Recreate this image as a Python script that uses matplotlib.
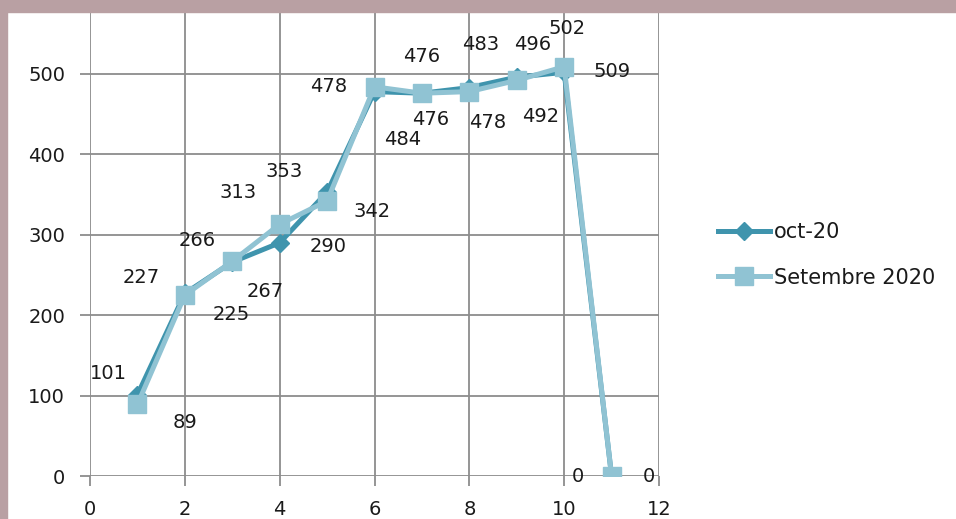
import matplotlib.pyplot as plt
from matplotlib.patches import Rectangle

# chart data
x_vals = [1, 2, 3, 4, 5, 6, 7, 8, 9, 10, 11]
oct_20 = [101, 227, 266, 290, 353, 478, 476, 483, 496, 502, 0]
set_2020 = [89, 225, 267, 313, 342, 484, 476, 478, 492, 509, 0]
x_ticks = [0, 2, 4, 6, 8, 10, 12]
y_ticks = [0, 100, 200, 300, 400, 500]

# label offsets in pixels (dx, dy up)
oct_offsets = [(-29, 21), (-44, 16), (-35, 22), (48, -4), (-43, 21), (-46, 5),
               (0, 37), (11, 43), (16, 33), (3, 44), (-34, 0)]
set_offsets = [(48, -18), (46, -19), (33, -30), (-42, 32), (45, -11), (28, -53),
               (9, -26), (18, -31), (24, -36), (48, -5), (37, 0)]

col_oct = '#3f94ad'
col_set = '#90c3d3'
grid_col = '#8c8c8c'
txt_col = '#1a1a1a'

fig = plt.figure(figsize=(9.56, 5.19), dpi=100)
fig.patch.set_facecolor('white')
ax = fig.add_axes([90 / 956, 43 / 519, 569 / 956, 464 / 519])

ax.plot(x_vals, oct_20, color=col_oct, lw=3.6, marker='D', ms=9, label='oct-20', zorder=3)
ax.plot(x_vals, set_2020, color=col_set, lw=3.6, marker='s', ms=13, label='Setembre 2020', zorder=4)

pt = 0.72
for xv, yv, (dx, dy) in zip(x_vals, oct_20, oct_offsets):
    ax.annotate(str(yv), (xv, yv), xytext=(dx * pt, dy * pt), textcoords='offset points',
                ha='center', va='center', fontsize=14, color=txt_col, zorder=5)
for xv, yv, (dx, dy) in zip(x_vals, set_2020, set_offsets):
    ax.annotate(str(yv), (xv, yv), xytext=(dx * pt, dy * pt), textcoords='offset points',
                ha='center', va='center', fontsize=14, color=txt_col, zorder=5)

ax.set_xlim(0, 12)
ax.set_ylim(0, 577)
ax.set_xticks(x_ticks)
ax.set_yticks(y_ticks)
ax.grid(True, color=grid_col, lw=1.3)
ax.set_axisbelow(True)
for s in ax.spines.values():
    s.set_visible(False)
ax.tick_params(axis='both', colors=grid_col, length=7, width=1.3, labelcolor=txt_col,
               labelsize=14)
ax.tick_params(axis='x', pad=10)
ax.tick_params(axis='y', pad=11)

fig.legend(loc='center left', bbox_to_anchor=(718 / 956, 1 - 255 / 519), frameon=False,
           fontsize=15, handlelength=2.5, handletextpad=0.2, labelspacing=1.2,
           borderpad=0, borderaxespad=0, labelcolor=txt_col)

# pinkish frame edges
fig.patches.append(Rectangle((0, 1 - 12 / 519), 1, 12 / 519, transform=fig.transFigure,
                             color='#b9a0a3', zorder=0))
fig.patches.append(Rectangle((0, 0), 7 / 956, 1, transform=fig.transFigure,
                             color='#b9a0a3', zorder=0))

fig.savefig('out.png', dpi=100)
